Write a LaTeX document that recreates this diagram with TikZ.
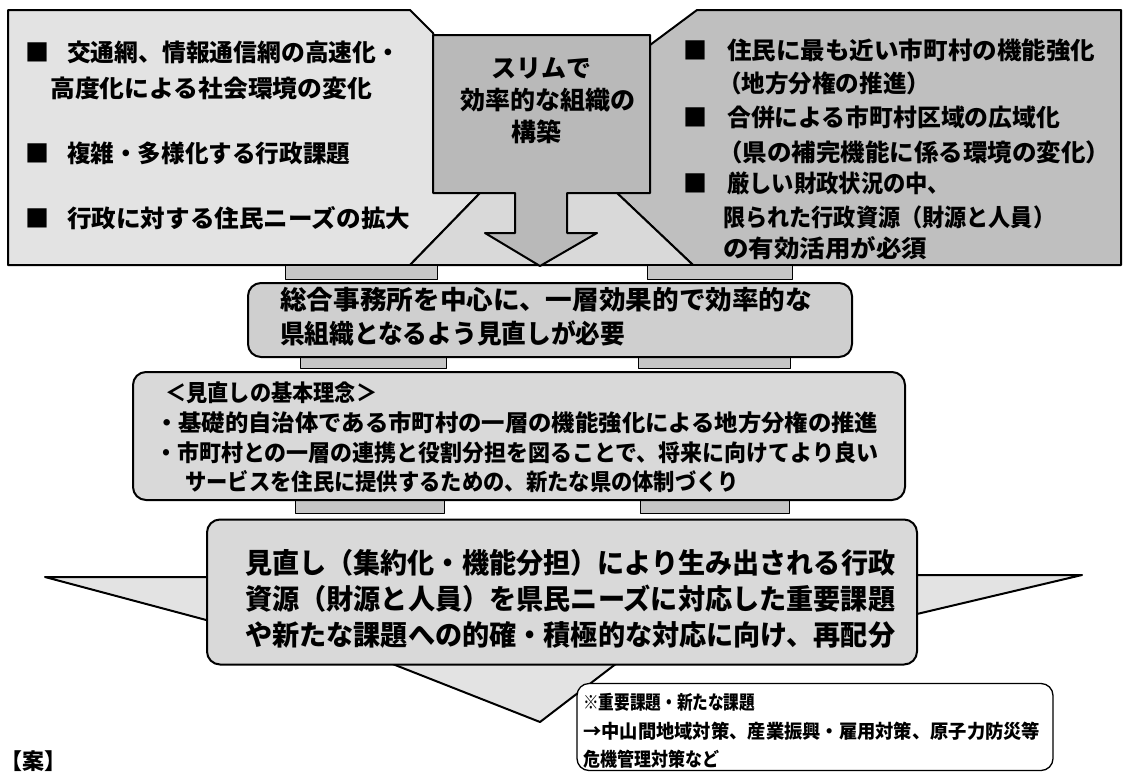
\documentclass[tikz,border=0pt]{standalone}
\usepackage{fontspec}
\usepackage{graphicx}
\setmainfont{Noto Sans CJK JP}
\newcommand{\Tline}[6]{\node[anchor=west,inner sep=0pt] (#1) at (#2,#3) {\fontsize{#4}{#4}\selectfont\bfseries\resizebox{#5pt}{\height}{#6}};}
\newcommand{\Cline}[5]{\node[anchor=center,inner sep=0pt] (#1) at (#2,#3) {\fontsize{#4}{#4}\selectfont\bfseries #5};}
\newcommand{\Bul}[3]{\node[anchor=center,inner sep=0pt] (#1) at (#2,#3) {\fontsize{24}{24}\selectfont ■};}
\begin{document}
\begin{tikzpicture}[x=1pt,y=-1pt,line join=round,
  outl/.style={draw=black,line width=2pt},
  rbox/.style={draw=black,line width=2pt,rounded corners=13pt,inner sep=0pt},
  band/.style={draw=black,line width=1pt,fill=gray!45}]
\useasboundingbox (0,0) rectangle (1124,774);
\fill[white] (0,0) rectangle (1124,774);

% ---- top: left box, right box, funnel, central arrow callout
\path[outl,fill=gray!22] (8,10) -- (410,10) -- (433,33) -- (480,193) -- (410,265) -- (8,265) -- cycle;
\path[outl,fill=gray!50] (697,10) -- (1121,10) -- (1121,265) -- (693,265) -- (617,193) -- (650,45) -- cycle;
\fill[gray!30] (480,193) -- (617,193) -- (693,265) -- (410,265) -- cycle;
\draw[outl] (480,193) -- (410,265) -- (693,265) -- (617,193);
\path[outl,fill=gray!55] (433,35) -- (650,35) -- (650,193) -- (567,193) -- (567,233) -- (597,233)
  -- (540,266) -- (485,233) -- (515,233) -- (515,193) -- (433,193) -- cycle;

% ---- connector bands
\draw[band] (285,265) rectangle (437,279);
\draw[band] (647,265) rectangle (792,279);
\draw[band] (300,357) rectangle (446,368);
\draw[band] (638,357) rectangle (790,368);
\draw[band] (295,500) rectangle (444,513);
\draw[band] (640,500) rectangle (789,513);

% ---- box 2 and box 3
\node[rbox,fill=gray!38,minimum width=604pt,minimum height=74pt] (box2) at (550,320) {};
\node[rbox,fill=gray!30,minimum width=772pt,minimum height=128pt] (box3) at (519,436) {};

% ---- box 4 with three pointers
\path[outl,fill=gray!22] (45,577) -- (225,577) -- (225,625) -- cycle;
\path[outl,fill=gray!22] (1082,575) -- (900,575) -- (900,618) -- cycle;
\path[outl,fill=gray!22] (357,650) -- (540,722) -- (634,650) -- cycle;
\node[rbox,fill=gray!30,minimum width=710pt,minimum height=145pt] (box4) at (562,592) {};

% ---- note box
\node[draw=black,line width=1.3pt,rounded corners=12pt,fill=white,minimum width=476pt,minimum height=87pt,inner sep=0pt] (note) at (815,727) {};

% ---- texts: left box
\Bul{bL1}{37}{52}
\Tline{tL1}{67}{52}{24}{333}{交通網、情報通信網の高速化・}
\Tline{tL2}{50}{88}{24}{322}{高度化による社会環境の変化}
\Bul{bL3}{37}{153}
\Tline{tL3}{67}{153}{24}{283}{複雑・多様化する行政課題}
\Bul{bL4}{37}{218}
\Tline{tL4}{67}{218}{24}{343}{行政に対する住民ニーズの拡大}

% ---- central
\Cline{tC1}{541}{68}{25}{スリムで}
\Cline{tC2}{548}{100}{25}{効率的な組織の}
\Cline{tC3}{536}{132}{25}{構築}

% ---- right box
\Bul{bR1}{695}{50}
\Tline{tR1}{727}{50}{24}{368}{住民に最も近い市町村の機能強化}
\Tline{tR2}{718}{83}{24}{212}{（地方分権の推進）}
\Bul{bR3}{695}{117}
\Tline{tR3}{727}{117}{24}{333}{合併による市町村区域の広域化}
\Tline{tR4}{718}{152}{24}{392}{（県の補完機能に係る環境の変化）}
\Bul{bR5}{695}{183}
\Tline{tR5}{727}{183}{24}{223}{厳しい財政状況の中、}
\Tline{tR6}{723}{217}{24}{332}{限られた行政資源（財源と人員）}
\Tline{tR7}{723}{248}{24}{204}{の有効活用が必須}

% ---- box 2 text
\Tline{tS1}{280}{300}{26}{532}{総合事務所を中心に、一層効果的で効率的な}
\Tline{tS2}{280}{333}{26}{345}{県組織となるよう見直しが必要}

% ---- box 3 text
\Tline{tT0}{165}{393}{23}{212}{＜見直しの基本理念＞}
\Tline{tT1}{155}{423}{23}{723}{・基礎的自治体である市町村の一層の機能強化による地方分権の推進}
\Tline{tT2}{155}{453}{23}{723}{・市町村との一層の連携と役割分担を図ることで、将来に向けてより良い}
\Tline{tT3}{185}{482}{23}{554}{サービスを住民に提供するための、新たな県の体制づくり}

% ---- box 4 text
\Tline{tU1}{245}{563}{28}{650}{見直し（集約化・機能分担）により生み出される行政}
\Tline{tU2}{245}{599}{28}{650}{資源（財源と人員）を県民ニーズに対応した重要課題}
\Tline{tU3}{245}{635}{28}{650}{や新たな課題への的確・積極的な対応に向け、再配分}

% ---- note text
\Tline{tN1}{583}{702}{19}{172}{※重要課題・新たな課題}
\Tline{tN2}{583}{731}{19}{457}{→中山間地域対策、産業振興・雇用対策、原子力防災等}
\Tline{tN3}{583}{759}{19}{136}{危機管理対策など}

% ---- caption at bottom left
\node[anchor=west,inner sep=0pt] (cap) at (0,761) {\fontsize{22}{22}\selectfont\bfseries 【案】};
\end{tikzpicture}
\end{document}
